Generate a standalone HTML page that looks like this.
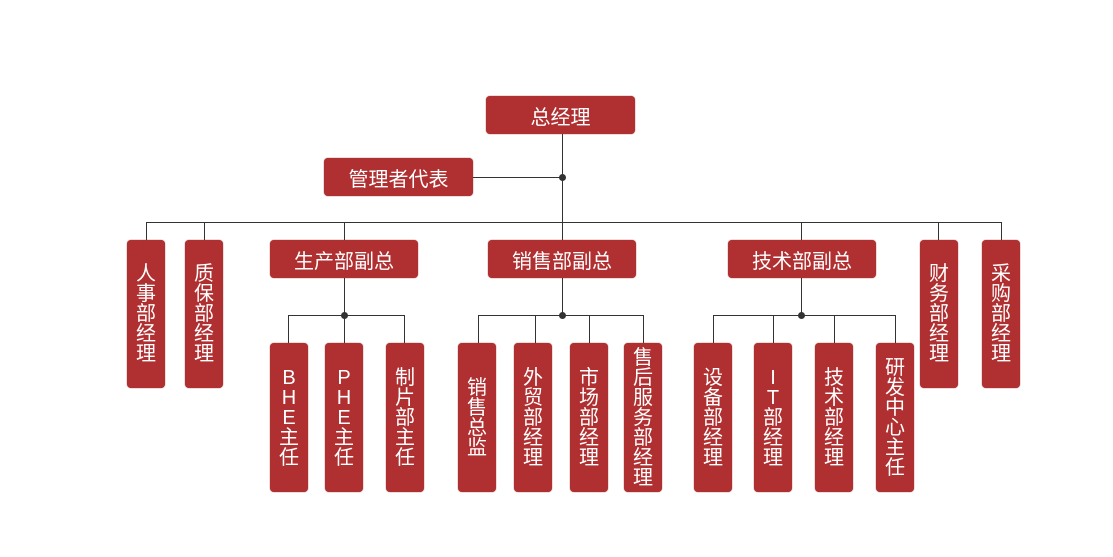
<!DOCTYPE html>
<html><head><meta charset="utf-8"><style>
body{margin:0;width:1113px;height:557px;background:#fff;position:relative;overflow:hidden;font-family:"Liberation Sans","Noto Sans CJK SC",sans-serif}
.b{position:absolute;background:#b02f30;border-radius:4px;color:#fff;display:flex;align-items:center;justify-content:center;box-shadow:0 0 1px #8a2222}
.h{font-size:20px;height:38px;top:240px;width:148px}
.v{flex-direction:column;font-size:20px;line-height:20px;width:38px}
.l{position:absolute;background:#333}
.d{position:absolute;width:7px;height:7px;border-radius:50%;background:#333}
</style></head><body>
<div class="l" style="left:562px;top:134px;width:1px;height:106px"></div>
<div class="l" style="left:473px;top:177px;width:89px;height:1px"></div>
<div class="d" style="left:559px;top:174px"></div>
<div class="l" style="left:146px;top:222px;width:856px;height:1px"></div>
<div class="l" style="left:146px;top:222px;width:1px;height:18px"></div>
<div class="l" style="left:204px;top:222px;width:1px;height:18px"></div>
<div class="l" style="left:344px;top:222px;width:1px;height:18px"></div>
<div class="l" style="left:801px;top:222px;width:1px;height:18px"></div>
<div class="l" style="left:938px;top:222px;width:1px;height:18px"></div>
<div class="l" style="left:1001px;top:222px;width:1px;height:18px"></div>
<div class="l" style="left:344px;top:277px;width:1px;height:66px"></div>
<div class="l" style="left:288px;top:315px;width:117px;height:1px"></div>
<div class="l" style="left:288px;top:315px;width:1px;height:28px"></div>
<div class="l" style="left:404px;top:315px;width:1px;height:28px"></div>
<div class="d" style="left:341px;top:312px"></div>
<div class="l" style="left:562px;top:277px;width:1px;height:38px"></div>
<div class="l" style="left:478px;top:315px;width:166px;height:1px"></div>
<div class="l" style="left:478px;top:315px;width:1px;height:28px"></div>
<div class="l" style="left:535px;top:315px;width:1px;height:28px"></div>
<div class="l" style="left:589px;top:315px;width:1px;height:28px"></div>
<div class="l" style="left:643px;top:315px;width:1px;height:28px"></div>
<div class="d" style="left:559px;top:312px"></div>
<div class="l" style="left:801px;top:277px;width:1px;height:38px"></div>
<div class="l" style="left:713px;top:315px;width:183px;height:1px"></div>
<div class="l" style="left:713px;top:315px;width:1px;height:28px"></div>
<div class="l" style="left:773px;top:315px;width:1px;height:28px"></div>
<div class="l" style="left:834px;top:315px;width:1px;height:28px"></div>
<div class="l" style="left:895px;top:315px;width:1px;height:28px"></div>
<div class="d" style="left:798px;top:312px"></div>

<div class="b" style="left:486px;top:96px;width:149px;height:38px;font-size:20px">总经理</div>
<div class="b" style="left:324px;top:158px;width:149px;height:38px;font-size:20px">管理者代表</div>
<div class="b h" style="left:270px">生产部副总</div>
<div class="b h" style="left:488px">销售部副总</div>
<div class="b h" style="left:728px">技术部副总</div>

<div class="b v" style="left:127px;top:240px;height:148px"><span>人</span><span>事</span><span>部</span><span>经</span><span>理</span></div>
<div class="b v" style="left:185px;top:240px;height:148px"><span>质</span><span>保</span><span>部</span><span>经</span><span>理</span></div>
<div class="b v" style="left:920px;top:240px;height:148px"><span>财</span><span>务</span><span>部</span><span>经</span><span>理</span></div>
<div class="b v" style="left:982px;top:240px;height:148px"><span>采</span><span>购</span><span>部</span><span>经</span><span>理</span></div>

<div class="b v" style="left:270px;top:343px;height:149px"><span>B</span><span>H</span><span>E</span><span>主</span><span>任</span></div>
<div class="b v" style="left:325px;top:343px;height:149px"><span>P</span><span>H</span><span>E</span><span>主</span><span>任</span></div>
<div class="b v" style="left:386px;top:343px;height:149px"><span>制</span><span>片</span><span>部</span><span>主</span><span>任</span></div>

<div class="b v" style="left:458px;top:343px;height:149px"><span>销</span><span>售</span><span>总</span><span>监</span></div>
<div class="b v" style="left:514px;top:343px;height:149px"><span>外</span><span>贸</span><span>部</span><span>经</span><span>理</span></div>
<div class="b v" style="left:570px;top:343px;height:149px"><span>市</span><span>场</span><span>部</span><span>经</span><span>理</span></div>
<div class="b v" style="left:624px;top:343px;height:149px"><span>售</span><span>后</span><span>服</span><span>务</span><span>部</span><span>经</span><span>理</span></div>

<div class="b v" style="left:694px;top:343px;height:149px"><span>设</span><span>备</span><span>部</span><span>经</span><span>理</span></div>
<div class="b v" style="left:754px;top:343px;height:149px"><span>I</span><span>T</span><span>部</span><span>经</span><span>理</span></div>
<div class="b v" style="left:815px;top:343px;height:149px"><span>技</span><span>术</span><span>部</span><span>经</span><span>理</span></div>
<div class="b v" style="left:876px;top:343px;height:149px"><span>研</span><span>发</span><span>中</span><span>心</span><span>主</span><span>任</span></div>
</body></html>
